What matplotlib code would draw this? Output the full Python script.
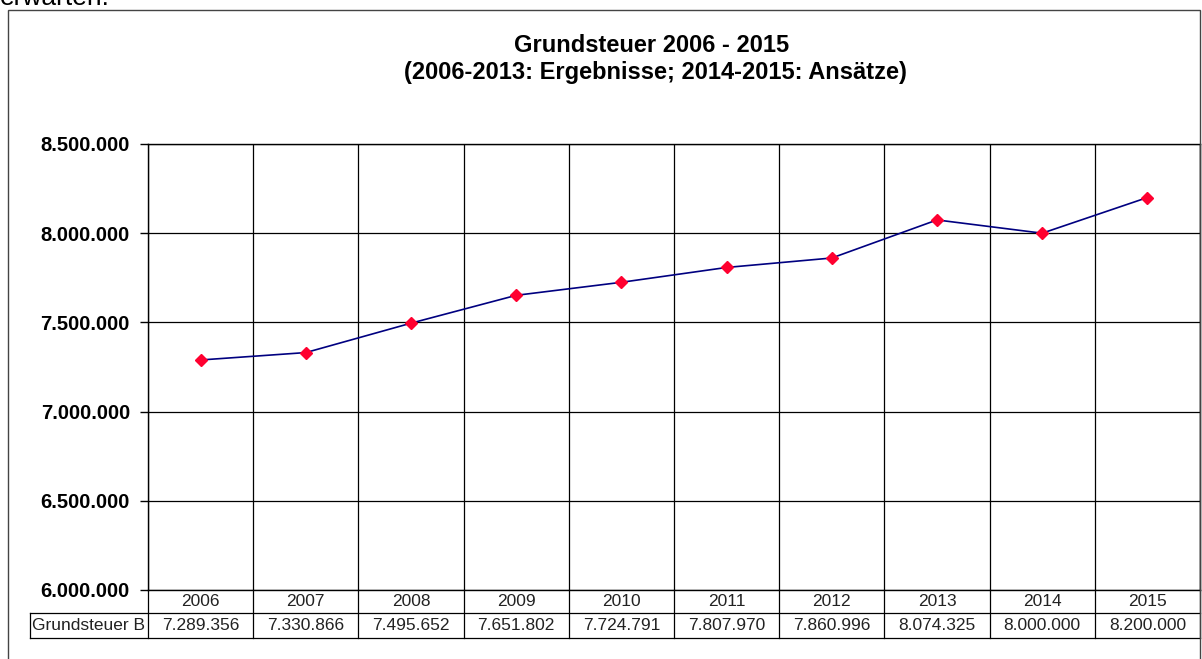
import matplotlib.pyplot as plt
from matplotlib.lines import Line2D
from matplotlib.patches import Rectangle
from matplotlib.transforms import blended_transform_factory

years = ["2006", "2007", "2008", "2009", "2010", "2011", "2012", "2013", "2014", "2015"]
values = [7289356, 7330866, 7495652, 7651802, 7724791, 7807970, 7860996, 8074325, 8000000, 8200000]
series_name = "Grundsteuer B"
yticks = [6000000, 6500000, 7000000, 7500000, 8000000, 8500000]

def de_fmt(v):
    return f"{v:,.0f}".replace(",", ".")

plt.rcParams['font.family'] = ['Liberation Sans', 'DejaVu Sans']

W, H = 1202, 659
fig = plt.figure(figsize=(W / 100, H / 100), dpi=100)

# chart frame
fig.patches.append(Rectangle((8 / W, -0.01), 1192 / W, 1 - 10 / H + 0.01, transform=fig.transFigure,
                             fill=False, edgecolor='#444444', linewidth=1.0))
fig.text(0, 1 - 5 / H, "erwarten.", fontsize=19, ha='left', va='baseline')

ax = fig.add_axes([148 / W, 1 - 590 / H, 1052 / W, 446 / H])
n = len(years)
x = list(range(n))
ax.plot(x, values, color='#000080', linewidth=1.2, zorder=3)
ax.plot(x, values, linestyle='none', marker='D', markersize=6, color='#ff0030', zorder=4)

ax.set_xlim(-0.5, n - 0.5)
ax.set_ylim(6000000, 8500000)
ax.set_yticks(yticks)
ax.set_yticklabels([de_fmt(v) for v in yticks], fontsize=14.5, fontweight='bold')
ax.set_xticks([i - 0.5 for i in range(n + 1)])
ax.set_xticklabels([])
ax.tick_params(axis='x', length=0)
ax.tick_params(axis='y', length=6, width=1, direction='out', pad=7)
ax.grid(True, color='black', linewidth=0.9)
ax.set_axisbelow(True)
for s in ax.spines.values():
    s.set_color('black')
    s.set_linewidth(1)

fig.text(652 / W, 1 - 45 / H, "Grundsteuer 2006 - 2015", ha='center', va='center', fontsize=17, fontweight='bold')
fig.text(655 / W, 1 - 73 / H, "(2006-2013: Ergebnisse; 2014-2015: Ansätze)", ha='center', va='center',
         fontsize=17, fontweight='bold')

# data table below
ah = 446.0
r1 = -23 / ah
r2 = -48 / ah
lab_left = -0.5 - (148 - 30) / (1052 / n)
bt = blended_transform_factory(ax.transData, ax.transAxes)
lw = 0.9
ax.add_line(Line2D([lab_left, n - 0.5], [r1, r1], transform=bt, color='black', lw=lw, clip_on=False))
ax.add_line(Line2D([lab_left, n - 0.5], [r2, r2], transform=bt, color='black', lw=lw, clip_on=False))
ax.add_line(Line2D([lab_left, lab_left], [r1, r2], transform=bt, color='black', lw=lw, clip_on=False))
for i in range(n + 1):
    ax.add_line(Line2D([i - 0.5, i - 0.5], [0, r2], transform=bt, color='black', lw=lw, clip_on=False))
for i in range(n):
    ax.text(i, r1 / 2, years[i], transform=bt, ha='center', va='center', fontsize=12.5, color='#222222')
    ax.text(i, (r1 + r2) / 2, de_fmt(values[i]), transform=bt, ha='center', va='center', fontsize=12.5,
            color='#222222')
ax.text((lab_left - 0.5) / 2, (r1 + r2) / 2, series_name, transform=bt, ha='center', va='center', fontsize=12.5,
        color='#222222')

fig.savefig("out.png", dpi=100)
